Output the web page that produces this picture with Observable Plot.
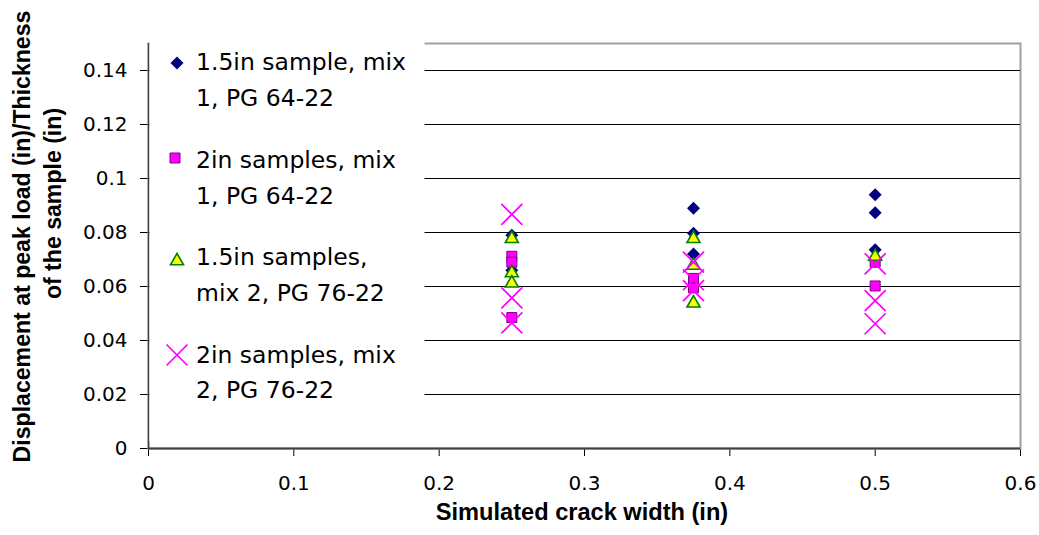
<!DOCTYPE html>
<html>
<head>
<meta charset="utf-8">
<script src="https://cdn.jsdelivr.net/npm/d3@7"></script>
<script src="https://cdn.jsdelivr.net/npm/@observablehq/plot@0.6"></script>
<style>
  html, body { margin: 0; padding: 0; background: #fff; }
  #chart { position: relative; width: 1039px; height: 535px; }
</style>
</head>
<body>
<div id="chart"></div>
<script>
// ---- data ----
const seriesNames = [
  ["1.5in sample, mix", "1, PG 64-22"],
  ["2in samples, mix", "1, PG 64-22"],
  ["1.5in samples,", "mix 2, PG 76-22"],
  ["2in samples, mix", "2, PG 76-22"]
];
// series 1: 1.5in sample, mix 1, PG 64-22 (diamonds)
const s1x = [0.25, 0.25, 0.375, 0.375, 0.375, 0.5, 0.5, 0.5];
const s1y = [0.079, 0.066, 0.089, 0.0797, 0.072, 0.094, 0.0873, 0.0736];
// series 2: 2in samples, mix 1, PG 64-22 (squares)
const s2x = [0.25, 0.25, 0.25, 0.375, 0.375, 0.5, 0.5];
const s2y = [0.0712, 0.069, 0.0485, 0.063, 0.0595, 0.069, 0.0602];
// series 3: 1.5in samples, mix 2, PG 76-22 (triangles)
const s3x = [0.25, 0.25, 0.25, 0.375, 0.375, 0.375, 0.5];
const s3y = [0.0777, 0.065, 0.0612, 0.0777, 0.0678, 0.0538, 0.0711];
// series 4: 2in samples, mix 2, PG 76-22 (crosses)
const s4x = [0.25, 0.25, 0.25, 0.375, 0.375, 0.375, 0.5, 0.5, 0.5];
const s4y = [0.0867, 0.0558, 0.0465, 0.069, 0.0625, 0.0585, 0.0684, 0.0548, 0.0462];

const xTicks = [0, 0.1, 0.2, 0.3, 0.4, 0.5, 0.6];
const yTicks = [0, 0.02, 0.04, 0.06, 0.08, 0.1, 0.12, 0.14];
const xTitle = "Simulated crack width (in)";
const yTitle1 = "Displacement at peak load (in)/Thickness";
const yTitle2 = "of the sample (in)";

const pts = (xs, ys) => xs.map((x, i) => ({x, y: ys[i]}));

// ---- styles ----
const st = [
  {symbol: "diamond2", r: 5.86, fill: "#000080", stroke: "none", strokeWidth: 0},
  {symbol: "square", r: 5.64, fill: "#FF00FF", stroke: "#800080", strokeWidth: 1},
  {symbol: "triangle", r: 4.85, fill: "#FFFF00", stroke: "#008000", strokeWidth: 1.6},
  {symbol: "times", r: 9.6, fill: "none", stroke: "#FF00FF", strokeWidth: 1.7}
];
const data = [pts(s1x, s1y), pts(s2x, s2y), pts(s3x, s3y), pts(s4x, s4y)];

const plot = Plot.plot({
  width: 1039,
  height: 535,
  marginLeft: 148,
  marginRight: 19,
  marginTop: 43,
  marginBottom: 87,
  style: {fontFamily: "DejaVu Sans", fontSize: "20px", background: "#fff", color: "#000"},
  x: {domain: [0, 0.6], ticks: xTicks, tickFormat: d => String(d), tickSize: 8, tickPadding: 19, label: null},
  y: {domain: [0, 0.15], ticks: yTicks, tickFormat: d => String(d), tickSize: 8, tickPadding: 13, label: null},
  marks: [
    Plot.frame({stroke: "#a0a0a0", strokeWidth: 2}),
    Plot.ruleY(yTicks.filter(v => v > 0), {stroke: "#000", strokeWidth: 1, shapeRendering: "crispEdges"}),
    Plot.ruleX([0], {stroke: "#404040", strokeWidth: 1.5}),
    Plot.ruleY([0], {stroke: "#404040", strokeWidth: 2}),
    ...data.map((d, i) => Plot.dot(d, {x: "x", y: "y", ...st[i]})),
    Plot.text([xTitle], {text: d => d, frameAnchor: "bottom", textAnchor: "middle", dy: 71.5, dx: -2.5,
      fontFamily: "Liberation Sans", fontWeight: "bold", fontSize: 23.6, fill: "#000"}),
    Plot.text([yTitle1], {text: d => d, frameAnchor: "left", textAnchor: "middle", dx: -126, dy: -9.5, rotate: -90,
      fontFamily: "Liberation Sans", fontWeight: "bold", fontSize: 23.1, fill: "#000"}),
    Plot.text([yTitle2], {text: d => d, frameAnchor: "left", textAnchor: "middle", dx: -95, dy: -42.5, rotate: -90,
      fontFamily: "Liberation Sans", fontWeight: "bold", fontSize: 23.1, fill: "#000"})
  ]
});

// ---- legend (inside the plot area, top-left, white box) ----
const svg = d3.select(plot);
const lg = svg.append("g").attr("class", "legend").attr("text-anchor", "start");
lg.append("rect").attr("x", 149.5).attr("y", 40.5).attr("width", 275).attr("height", 401).attr("fill", "#fff");
const symMap = {diamond2: d3.symbolDiamond2, square: d3.symbolSquare, triangle: d3.symbolTriangle, times: d3.symbolTimes};
const legSymPos = [[177, 63], [175, 158], [177, 261], [177, 355]];
const legBase = [[70, 106], [168, 203.5], [265, 300.5], [362.5, 398]];
seriesNames.forEach((lines, i) => {
  const s = st[i];
  lg.append("path")
    .attr("d", d3.symbol(symMap[s.symbol], s.r * s.r * Math.PI)())
    .attr("transform", `translate(${legSymPos[i][0]},${legSymPos[i][1]})`)
    .attr("fill", s.fill).attr("stroke", s.stroke).attr("stroke-width", s.strokeWidth);
  lines.forEach((t, j) => {
    lg.append("text").attr("x", 196).attr("y", legBase[i][j])
      .attr("text-anchor", "start")
      .attr("font-family", "DejaVu Sans").attr("font-size", 23.5).attr("fill", "#000").text(t);
  });
});

document.getElementById("chart").appendChild(plot);
</script>
</body>
</html>
